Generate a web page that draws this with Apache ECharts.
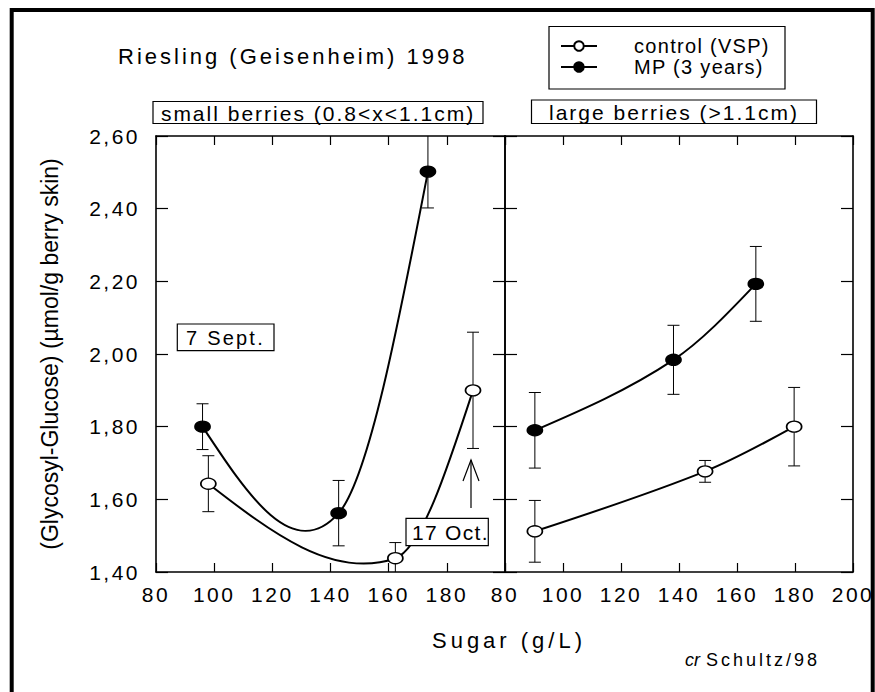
<!DOCTYPE html>
<html><head><meta charset="utf-8">
<script src="https://cdn.jsdelivr.net/npm/echarts@6/dist/echarts.min.js"></script>
<style>html,body{margin:0;padding:0;background:#fff}#main{width:875px;height:692px}</style>
</head><body><div id="main"></div>
<script>
// ---------- data ----------
const sugarTicks = [80, 100, 120, 140, 160, 180, 200];
const ggTicks = [1.4, 1.6, 1.8, 2.0, 2.2, 2.4, 2.6];
const ggTickLabels = ['1,40', '1,60', '1,80', '2,00', '2,20', '2,40', '2,60'];

// small berries (0.8<x<1.1cm)
const smallControlSugar = [98.0, 162.3, 189.0];
const smallControlGG    = [1.643, 1.438, 1.900];
const smallControlErr   = [0.077, 0.043, 0.160];
const smallMPSugar      = [96.0, 142.8, 173.5];
const smallMPGG         = [1.800, 1.562, 2.502];
const smallMPErr        = [0.063, 0.090, 0.100];

// large berries (>1.1cm)
const largeControlSugar = [90.3, 149.0, 179.7];
const largeControlGG    = [1.512, 1.677, 1.800];
const largeControlErr   = [0.085, 0.030, 0.108];
const largeMPSugar      = [90.3, 138.1, 166.5];
const largeMPGG         = [1.790, 1.984, 2.193];
const largeMPErr        = [0.104, 0.095, 0.103];

const seriesNames = ['control (VSP)', 'MP (3 years)'];
const titleText = 'Riesling (Geisenheim) 1998';
const panelNames = ['small berries (0.8<x<1.1cm)', 'large berries (>1.1cm)'];
const dateLabels = ['7 Sept.', '17 Oct.'];
const xName = 'Sugar (g/L)';
const yName = '(Glycosyl-Glucose) (µmol/g berry skin)';

// ---------- helpers ----------
const FONT = 'Liberation Sans';
const zip = (xs, ys) => xs.map((x, i) => [x, ys[i]]);
const errs = (xs, ys, es) => xs.map((x, i) => [x, ys[i] - es[i], ys[i] + es[i]]);
const ggLabel = v => { const i = ggTicks.findIndex(t => Math.abs(t - v) < 1e-6); return i >= 0 ? ggTickLabels[i] : ''; };

// markers (and legend entries)
function markerSeries(name, gi, data, filled) {
  return {
    type: 'line', name, xAxisIndex: gi * 2, yAxisIndex: gi * 2, data,
    symbol: 'circle', symbolSize: [15, 11], z: 5,
    lineStyle: { color: '#000', width: 2, opacity: 0 },
    itemStyle: { color: filled ? '#000' : '#fff', borderColor: '#000', borderWidth: 1.5 },
    emphasis: { disabled: true }
  };
}
// smooth curve through the measured points (cubic spline drawn via the axes' scales)
function curveSeries(gi, data) {
  return {
    type: 'custom', xAxisIndex: gi * 2, yAxisIndex: gi * 2, data, z: 4, silent: true,
    encode: { x: 0, y: 1 },
    renderItem(params, api) {
      if (params.dataIndexInside !== 0) return null;
      const n = params.dataInsideLength;
      const P = [];
      for (let i = 0; i < n; i++) P.push([api.value(0, i), api.value(1, i)]);
      const d = [];
      for (let i = 0; i < n - 1; i++) d.push((P[i + 1][1] - P[i][1]) / (P[i + 1][0] - P[i][0]));
      const m = new Array(n);
      for (let i = 1; i < n - 1; i++) m[i] = (P[i + 1][1] - P[i - 1][1]) / (P[i + 1][0] - P[i - 1][0]);
      m[0] = (3 * d[0] - m[1]) / 2;
      m[n - 1] = (3 * d[n - 2] - m[n - 2]) / 2;
      const p0 = api.coord(P[0]);
      let path = 'M' + p0[0] + ' ' + p0[1];
      for (let i = 0; i < n - 1; i++) {
        const h = P[i + 1][0] - P[i][0];
        const c1 = api.coord([P[i][0] + h / 3, P[i][1] + m[i] * h / 3]);
        const c2 = api.coord([P[i + 1][0] - h / 3, P[i + 1][1] - m[i + 1] * h / 3]);
        const p = api.coord(P[i + 1]);
        path += ' C' + c1[0] + ' ' + c1[1] + ' ' + c2[0] + ' ' + c2[1] + ' ' + p[0] + ' ' + p[1];
      }
      return { type: 'path', shape: { pathData: path }, style: { stroke: '#000', lineWidth: 2, fill: null } };
    }
  };
}
function errSeries(gi, data) {
  return {
    type: 'custom', xAxisIndex: gi * 2, yAxisIndex: gi * 2, data, z: 3, silent: true,
    encode: { x: 0, y: [1, 2] },
    renderItem(params, api) {
      const x = api.value(0), lo = api.value(1), hi = api.value(2);
      const cs = params.coordSys;
      const pl = api.coord([x, lo]), ph = api.coord([x, hi]);
      const top = cs.y, bot = cs.y + cs.height, w = 6;
      const st = { stroke: '#000', lineWidth: 1 };
      const ch = [{ type: 'line', shape: { x1: pl[0], y1: Math.min(pl[1], bot), x2: ph[0], y2: Math.max(ph[1], top) }, style: st }];
      if (ph[1] > top + 1) ch.push({ type: 'line', shape: { x1: ph[0] - w, y1: ph[1], x2: ph[0] + w, y2: ph[1] }, style: st });
      if (pl[1] < bot - 1) ch.push({ type: 'line', shape: { x1: pl[0] - w, y1: pl[1], x2: pl[0] + w, y2: pl[1] }, style: st });
      return { type: 'group', children: ch };
    }
  };
}
const axisLine = { show: true, lineStyle: { color: '#000', width: 1.6 } };
function xAxes(gi) {
  const common = { type: 'value', gridIndex: gi, min: 80, max: 200, interval: 20, splitLine: { show: false }, axisLine };
  return [
    Object.assign({}, common, {
      position: 'bottom',
      axisTick: { inside: true, length: 9, lineStyle: { color: '#000', width: 1.2 } },
      axisLabel: { color: '#000', fontFamily: FONT, fontSize: 21, margin: 12,
        formatter: v => (gi === 0 && v === 200) ? '' : String(sugarTicks[sugarTicks.indexOf(v)]) }
    }),
    Object.assign({}, common, {
      position: 'top',
      axisTick: { inside: true, length: 9, lineStyle: { color: '#000', width: 1.2 } },
      axisLabel: { show: false }
    })
  ];
}
function yAxes(gi) {
  const common = { type: 'value', gridIndex: gi, min: 1.4, max: 2.6, interval: 0.2, splitLine: { show: false }, axisLine,
    axisTick: { inside: true, length: 12, lineStyle: { color: '#000', width: 1.2 } } };
  const left = Object.assign({}, common, { position: 'left',
    axisLabel: gi === 0 ? { color: '#000', fontFamily: FONT, fontSize: 21, margin: 16, formatter: ggLabel } : { show: false } });
  if (gi === 0) Object.assign(left, { name: yName, nameLocation: 'middle', nameGap: 95, nameRotate: 90,
    nameTextStyle: { color: '#000', fontFamily: FONT, fontSize: 23 } });
  const right = Object.assign({}, common, { position: 'right', axisLabel: { show: false } });
  return [left, right];
}

const chart = echarts.init(document.getElementById('main'), null, { renderer: 'svg' });
const option = {
  animation: false,
  backgroundColor: '#fff',
  title: { text: titleText, left: 118, top: 45, padding: 0,
    textStyle: { color: '#000', fontFamily: FONT, fontSize: 22, fontWeight: 'normal' } },
  legend: {
    data: seriesNames, orient: 'vertical', left: 560, top: 36, padding: 0,
    itemWidth: 36, itemHeight: 12, itemGap: 1, selectedMode: false,
    lineStyle: { opacity: 1, width: 2, color: '#000' },
    textStyle: { color: '#000', fontFamily: FONT, fontSize: 20, padding: [0, 0, 0, 32] }
  },
  grid: [
    { left: 156, top: 136, width: 349, height: 436, outerBoundsMode: 'none' },
    { left: 505, top: 136, width: 348, height: 436, outerBoundsMode: 'none' }
  ],
  xAxis: [...xAxes(0), ...xAxes(1)],
  yAxis: [...yAxes(0), ...yAxes(1)],
  series: [
    errSeries(0, errs(smallControlSugar, smallControlGG, smallControlErr)),
    errSeries(0, errs(smallMPSugar, smallMPGG, smallMPErr)),
    errSeries(1, errs(largeControlSugar, largeControlGG, largeControlErr)),
    errSeries(1, errs(largeMPSugar, largeMPGG, largeMPErr)),
    curveSeries(0, zip(smallControlSugar, smallControlGG)),
    curveSeries(0, zip(smallMPSugar, smallMPGG)),
    curveSeries(1, zip(largeControlSugar, largeControlGG)),
    curveSeries(1, zip(largeMPSugar, largeMPGG)),
    markerSeries(seriesNames[0], 0, zip(smallControlSugar, smallControlGG), false),
    markerSeries(seriesNames[1], 0, zip(smallMPSugar, smallMPGG), true),
    markerSeries(seriesNames[0], 1, zip(largeControlSugar, largeControlGG), false),
    markerSeries(seriesNames[1], 1, zip(largeMPSugar, largeMPGG), true)
  ],
  graphic: [
    { type: 'rect', shape: { x: 11.7, y: 10, width: 861, height: 700 }, style: { fill: 'none', stroke: '#000', lineWidth: 4 }, silent: true },
    { type: 'rect', shape: { x: 549, y: 26.5, width: 236, height: 62.5 }, style: { fill: 'none', stroke: '#000', lineWidth: 1.2 }, silent: true },
    { type: 'rect', shape: { x: 153, y: 101.5, width: 330, height: 22 }, style: { fill: '#fff', stroke: '#000', lineWidth: 1.2 }, silent: true },
    { type: 'text', x: 318, y: 113, style: { text: panelNames[0], fill: '#000', font: '21px "Liberation Sans"', textAlign: 'center', textVerticalAlign: 'middle' }, silent: true },
    { type: 'rect', shape: { x: 531.5, y: 100, width: 285, height: 23.5 }, style: { fill: '#fff', stroke: '#000', lineWidth: 1.2 }, silent: true },
    { type: 'text', x: 674, y: 112, style: { text: panelNames[1], fill: '#000', font: '21px "Liberation Sans"', textAlign: 'center', textVerticalAlign: 'middle' }, silent: true },
    { type: 'rect', shape: { x: 177.3, y: 324, width: 96.7, height: 26.7 }, style: { fill: '#fff', stroke: '#000', lineWidth: 1.2 }, silent: true },
    { type: 'text', x: 225.5, y: 337.5, style: { text: dateLabels[0], fill: '#000', font: '20px "Liberation Sans"', textAlign: 'center', textVerticalAlign: 'middle' }, silent: true },
    { type: 'rect', z: 100, shape: { x: 406, y: 518.3, width: 82.3, height: 27.4 }, style: { fill: '#fff', stroke: '#000', lineWidth: 1.2 }, silent: true },
    { type: 'text', z: 101, x: 412, y: 532, style: { text: dateLabels[1], fill: '#000', font: '21px "Liberation Sans"', textAlign: 'left', textVerticalAlign: 'middle' }, silent: true },
    { type: 'polyline', shape: { points: [[471, 508], [471, 460]] }, style: { stroke: '#000', lineWidth: 1.2, fill: 'none' }, silent: true },
    { type: 'polyline', shape: { points: [[463, 481], [471, 460], [479, 481]] }, style: { stroke: '#000', lineWidth: 1.2, fill: 'none' }, silent: true },
    { type: 'text', x: 509, y: 640, style: { text: xName, fill: '#000', font: '22px "Liberation Sans"', textAlign: 'center', textVerticalAlign: 'middle' }, silent: true },
    { type: 'text', x: 685, y: 660, style: { text: '{i|cr}{n|Schultz/98}', fill: '#000', font: '18px "Liberation Sans"', textAlign: 'left', textVerticalAlign: 'middle',
      rich: { i: { fontStyle: 'italic', fontFamily: FONT, fontSize: 18, fill: '#000', padding: [0, 6, 0, 0] }, n: { fontFamily: FONT, fontSize: 18, fill: '#000' } } }, silent: true }
  ]
};
chart.setOption(option);

// letter spacing (styling of the SVG text nodes)
const spacingMap = {};
spacingMap[titleText] = 3; spacingMap[panelNames[0]] = 2; spacingMap[panelNames[1]] = 2;
spacingMap[yName] = 0; spacingMap[xName] = 4; spacingMap[dateLabels[0]] = 2.2; spacingMap[dateLabels[1]] = 1.3;
spacingMap[seriesNames[0]] = 1.3; spacingMap[seriesNames[1]] = 1.3;
spacingMap['cr'] = 0; spacingMap['Schultz/98'] = 3;
function applySpacing() {
  document.querySelectorAll('#main svg text').forEach(t => {
    const s = t.textContent.trim();
    const ls = spacingMap.hasOwnProperty(s) ? spacingMap[s] : 2.5;
    t.style.letterSpacing = ls + 'px';
  });
}
chart.on('finished', applySpacing);
applySpacing();
setTimeout(applySpacing, 50);
</script></body></html>
